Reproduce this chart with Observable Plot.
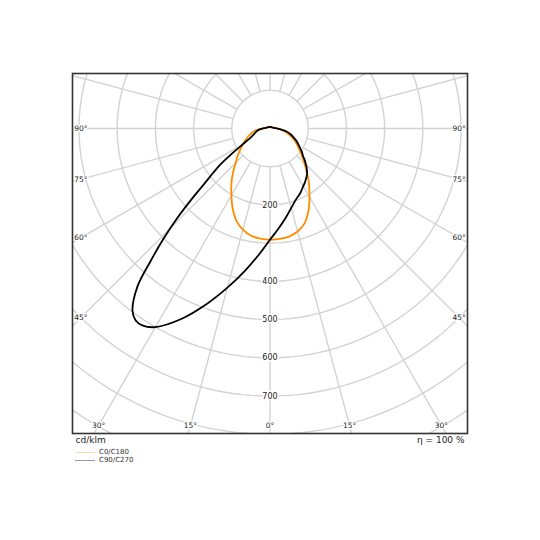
<!DOCTYPE html>
<html>
<head>
<meta charset="utf-8">
<script src="https://cdn.jsdelivr.net/npm/d3@7"></script>
<script src="https://cdn.jsdelivr.net/npm/@observablehq/plot@0.6"></script>
<style>
  body { margin: 0; background: #fff; font-family: "DejaVu Sans", sans-serif; }
  #legend { position: relative; margin-left: 75px; font-size: 7px; line-height: 8px; color: #333; }
  #legend .row { display: flex; align-items: center; height: 8px; }
  #legend .sw { width: 20px; height: 0; border-top: 1px solid; margin-right: 4px; }
</style>
</head>
<body>
<div id="chart"></div>
<script>
// Gamma angles (degrees from nadir) and luminous intensity values (cd/klm)
const gammaAngles = [0, 5, 10, 15, 20, 25, 30, 33, 35, 37, 40, 42, 44, 46, 48, 50, 52, 54, 56, 60, 65, 70, 75, 80, 85, 90, 95, 100, 110, 120, 135, 150, 165, 180];
const c0   = [291, 290, 287, 279, 264, 238, 207, 189, 178, 167, 150, 141, 131, 123, 116, 108, 102, 96, 90, 81, 70, 58, 47, 37, 28, 20, 14, 11, 8, 6, 5, 5, 4.5, 4.5];
const c180 = [291, 289, 285, 274, 257, 231, 202, 186, 176, 166, 150, 141, 131, 123, 117, 110, 104, 97, 92, 82, 71, 61, 52, 42, 32, 22, 15, 11, 8, 6, 5, 5, 4.5, 4.5];
const c90  = [291, 262, 237, 215, 198, 187, 174, 168, 163, 159, 151, 144, 137, 129, 122, 113, 108, 103, 97, 87, 76, 65, 55, 44, 30, 19, 13, 10, 7, 6, 5, 5, 4.5, 4.5];
const c270 = [291, 331, 378, 431, 490, 550, 600, 614, 613, 598, 540, 468, 402, 338, 276, 224, 190, 161, 128, 82, 56, 45, 39, 34, 27, 20, 14, 11, 8, 6, 5, 5, 4.5, 4.5];

// Grid
const ringValues = [100, 200, 300, 400, 500, 600, 700, 800, 900, 1000, 1100];
const ringLabels = [200, 400, 500, 600, 700];
const spokeAngles = [0, 15, 30, 45, 60, 75, 90, 105, 120, 135, 150, 165, 180, 195, 210, 225, 240, 255, 270, 285, 300, 315, 330, 345];
const sideAngleLabels = [45, 60, 75, 90];
const bottomAngleLabels = [-30, -15, 0, 15, 30];

const xDomain = [-517, 517];
const yDomain = [-798, 144];
const rad = g => g * Math.PI / 180;
const px = (r, g) => r * Math.sin(rad(g));
const py = (r, g) => -r * Math.cos(rad(g));

function loop(left, right) {
  const pts = [];
  for (let i = gammaAngles.length - 1; i >= 0; i--) pts.push({g: -gammaAngles[i], r: left[i]});
  for (let i = 1; i < gammaAngles.length; i++) pts.push({g: gammaAngles[i], r: right[i]});
  return pts;
}
const orange = loop(c180, c0);
const black = loop(c270, c90);

const ringPts = ringValues.flatMap(r => d3.range(0, 361, 2).map(g => ({r, g})));

const insetX = 495, insetY = -777;
const sideLabels = sideAngleLabels.flatMap(a => [
  {x: -insetX, y: -insetX / Math.tan(rad(a)), t: a + "°"},
  {x: insetX, y: -insetX / Math.tan(rad(a)), t: a + "°"}
]);
const bottomLabels = bottomAngleLabels.map(a => ({x: -insetY * Math.tan(rad(a)), y: insetY, t: Math.abs(a) + "°"}));

const grid = "#d3d3d3";
const chart = Plot.plot({
  width: 540,
  height: 448,
  marginTop: 73,
  marginLeft: 72,
  marginRight: 73,
  marginBottom: 15,
  style: {fontFamily: "DejaVu Sans", background: "white"},
  x: {domain: xDomain, axis: null},
  y: {domain: yDomain, axis: null},
  marks: [
    Plot.line(ringPts, {x: d => px(d.r, d.g), y: d => py(d.r, d.g), z: "r", stroke: grid, strokeWidth: 1.4, clip: true}),
    Plot.link(spokeAngles, {x1: g => px(100, g), y1: g => py(100, g), x2: g => px(1300, g), y2: g => py(1300, g), stroke: grid, strokeWidth: 1.4, clip: true}),
    Plot.text(ringLabels, {x: () => 0, y: d => -d, text: d => String(d), fontSize: 8, fill: "#222", stroke: "white", strokeWidth: 3}),
    Plot.text(sideLabels, {x: "x", y: "y", text: "t", fontSize: 7.5, fill: "#222", stroke: "white", strokeWidth: 2.5}),
    Plot.text(bottomLabels, {x: "x", y: "y", text: "t", fontSize: 7.5, fill: "#222", stroke: "white", strokeWidth: 2.5}),
    Plot.line(orange, {x: d => px(d.r, d.g), y: d => py(d.r, d.g), stroke: "#ff8c00", strokeWidth: 1.8, curve: "catmull-rom"}),
    Plot.line(black, {x: d => px(d.r, d.g), y: d => py(d.r, d.g), stroke: "#000", strokeWidth: 1.8, curve: "catmull-rom"}),
    Plot.frame({stroke: "#333", strokeWidth: 1.6}),
    Plot.text(["cd/klm"], {frameAnchor: "bottom-left", text: d => d, textAnchor: "start", dx: 3, dy: 9, fontSize: 9, fill: "#222"}),
    Plot.text(["η = 100 %"], {frameAnchor: "bottom-right", text: d => d, textAnchor: "end", dx: -3, dy: 9, fontSize: 9, fill: "#222"})
  ]
});
document.getElementById("chart").appendChild(chart);

const legendItems = [
  {label: "C0/C180", color: "#fdd9a0"},
  {label: "C90/C270", color: "#999999"}
];
const legend = document.createElement("div");
legend.id = "legend";
legendItems.forEach(it => {
  const row = document.createElement("div");
  row.className = "row";
  const sw = document.createElement("span");
  sw.className = "sw";
  sw.style.borderTopColor = it.color;
  const tx = document.createElement("span");
  tx.textContent = it.label;
  row.appendChild(sw);
  row.appendChild(tx);
  legend.appendChild(row);
});
document.body.appendChild(legend);
</script>
</body>
</html>
